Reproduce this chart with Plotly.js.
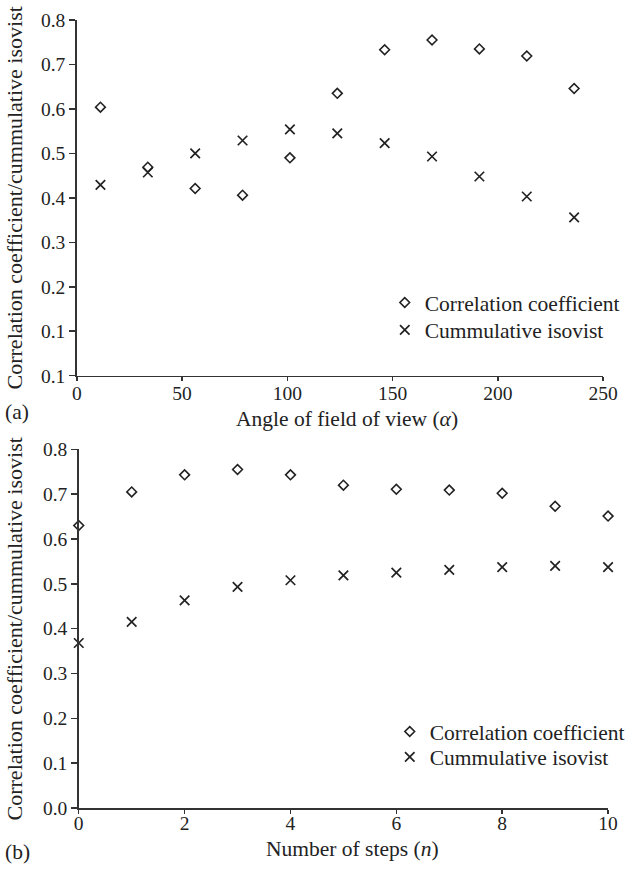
<!DOCTYPE html>
<html>
<head>
<meta charset="utf-8">
<script src="https://cdn.plot.ly/plotly-3.0.1.min.js"></script>
<style>html,body{margin:0;padding:0;background:#fff;}#chart{width:630px;height:871px;}</style>
</head>
<body>
<div id="chart"></div>
<script>
// Panel (a): angle of field of view
const angleX = [11.25, 33.75, 56.25, 78.75, 101.25, 123.75, 146.25, 168.75, 191.25, 213.75, 236.25];
const angleCorr = [0.604, 0.469, 0.421, 0.406, 0.490, 0.635, 0.733, 0.755, 0.735, 0.719, 0.646];
const angleIsovist = [0.429, 0.457, 0.500, 0.529, 0.554, 0.545, 0.523, 0.493, 0.448, 0.403, 0.356];
const angleTickVals = [0, 50, 100, 150, 200, 250];
const yTickValsA = [0, 0.1, 0.2, 0.3, 0.4, 0.5, 0.6, 0.7, 0.8];
const yTickTextA = ["0.1", "0.1", "0.2", "0.3", "0.4", "0.5", "0.6", "0.7", "0.8"];

// Panel (b): number of steps
const stepsX = [0, 1, 2, 3, 4, 5, 6, 7, 8, 9, 10];
const stepsCorr = [0.630, 0.705, 0.743, 0.755, 0.743, 0.720, 0.711, 0.709, 0.702, 0.673, 0.651];
const stepsIsovist = [0.368, 0.415, 0.463, 0.493, 0.508, 0.519, 0.525, 0.531, 0.537, 0.540, 0.537];
const stepsTickVals = [0, 2, 4, 6, 8, 10];
const yTickValsB = [0, 0.1, 0.2, 0.3, 0.4, 0.5, 0.6, 0.7, 0.8];
const yTickTextB = ["0.0", "0.1", "0.2", "0.3", "0.4", "0.5", "0.6", "0.7", "0.8"];

const seriesNames = ["Correlation coefficient", "Cummulative isovist"];
const yTitle = "Correlation coefficient/cummulative isovist";
const xTitleA = "Angle of field of view (<i>α</i>)";
const xTitleB = "Number of steps (<i>n</i>)";

const serif = "Liberation Serif, Times New Roman, serif";
const ink = "#222222";
const axisCol = "#333333";

const diamond = {symbol: "diamond-open", size: 7.5, color: ink, line: {color: ink, width: 1.6}};
const cross = {symbol: "x-thin-open", size: 9.5, color: ink, line: {color: ink, width: 1.7}};

function pts(x, y, name, marker, xa, ya, lg) {
  return {x: x, y: y, type: "scatter", mode: "markers", name: name, marker: marker,
          xaxis: xa, yaxis: ya, legend: lg, cliponaxis: false};
}

const traces = [
  pts(angleX, angleCorr, seriesNames[0], diamond, "x", "y", "legend"),
  pts(angleX, angleIsovist, seriesNames[1], cross, "x", "y", "legend2"),
  pts(stepsX, stepsCorr, seriesNames[0], diamond, "x2", "y2", "legend3"),
  pts(stepsX, stepsIsovist, seriesNames[1], cross, "x2", "y2", "legend4")
];

const W = 630, H = 871;
const tickFont = {family: serif, size: 19.5, color: ink};
const titleFont = {family: serif, size: 21.5, color: ink};
const yTitleFont = {family: serif, size: 22, color: ink};
const legFont = {family: serif, size: 21.5, color: ink};

function xAxis(domain, anchor, range, tickvals, shift) {
  return {
    domain: domain, anchor: anchor, range: range, tickmode: "array", tickvals: tickvals,
    showgrid: false, zeroline: false, showline: true, linecolor: axisCol, linewidth: 1.5,
    ticks: "outside", ticklen: 4, tickwidth: 1.5, tickcolor: axisCol, tickfont: tickFont,
    ticklabelposition: "outside", ticklabelstandoff: shift
  };
}
function yAxis(domain, anchor, tickvals, ticktext) {
  return {
    domain: domain, anchor: anchor, range: [0, 0.8], tickmode: "array", tickvals: tickvals, ticktext: ticktext,
    showgrid: false, zeroline: false, showline: true, linecolor: axisCol, linewidth: 1.5,
    ticks: "outside", ticklen: 6, tickwidth: 1.5, tickcolor: axisCol, tickfont: tickFont
  };
}
function leg(xpx, topPx) {
  return {x: xpx / W, xanchor: "left", y: (H - topPx) / H, yanchor: "top",
          font: legFont, bgcolor: "rgba(0,0,0,0)", itemwidth: 30, tracegroupgap: 0};
}
function note(text, xpx, ypx, font, angle) {
  return {text: text, xref: "paper", yref: "paper", x: xpx / W, y: (H - ypx) / H,
          xanchor: "center", yanchor: "middle", showarrow: false, font: font, textangle: angle || 0};
}

const layout = {
  width: W, height: H,
  margin: {l: 0, r: 0, t: 0, b: 0},
  paper_bgcolor: "#ffffff", plot_bgcolor: "#ffffff",
  font: {family: serif, color: ink},
  showlegend: true,
  xaxis: xAxis([77 / W, 605 / W], "y", [0, 250], angleTickVals, -5),
  yaxis: yAxis([(H - 375.7) / H, (H - 20) / H], "x", yTickValsA, yTickTextA),
  xaxis2: xAxis([79 / W, 610 / W], "y2", [0, 10], stepsTickVals, -7),
  yaxis2: yAxis([(H - 808) / H, (H - 449.3) / H], "x2", yTickValsB, yTickTextB),
  legend: leg(386, 282),
  legend2: leg(386, 309.5),
  legend3: leg(391, 711),
  legend4: leg(391, 736.5),
  annotations: [
    note(xTitleA, 348, 419, titleFont),
    note(xTitleB, 354, 849, titleFont),
    note(yTitle, 15, 197.5, yTitleFont, -90),
    note(yTitle, 15, 628.5, yTitleFont, -90),
    note("(a)", 17, 412, titleFont),
    note("(b)", 18, 852, titleFont)
  ]
};

Plotly.newPlot("chart", traces, layout, {displayModeBar: false, staticPlot: true});
</script>
</body>
</html>
